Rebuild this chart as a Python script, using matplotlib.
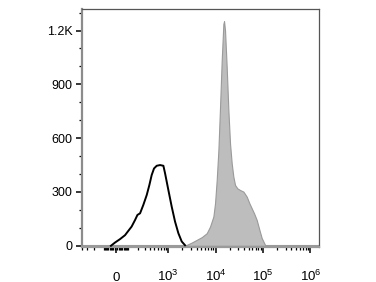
import numpy as np
import matplotlib
matplotlib.use('Agg')
import matplotlib.pyplot as plt

plt.rcParams['font.family'] = ['Liberation Sans', 'DejaVu Sans']
plt.rcParams['mathtext.default'] = 'regular'

# unstained control (black outline)
ctrl_x = [-40, -8, 31, 72, 101, 133, 170, 198, 232, 280, 337, 388, 437, 493,
          565, 669, 789, 857, 1008, 1188, 1398, 1645, 1936, 2277]
ctrl_y = [0, 18, 37, 59, 83, 107, 144, 172, 181, 228, 283, 339, 394, 431,
          446, 450, 446, 404, 311, 218, 135, 70, 24, 3]

# stained sample (gray fill)
stain_x = [2471, 3149, 4015, 5119, 6528, 7667, 9017, 9775, 10605, 11503,
           12464, 13515, 14656, 15142, 15888, 17221, 18679, 20250, 21967,
           23809, 25821, 28917, 32906, 38691, 45494, 51765, 58003, 64964,
           73925, 84162, 94242, 110740, 120119]
stain_y = [5, 18, 33, 48, 70, 107, 163, 237, 367, 533, 774, 1033, 1237, 1252,
           1200, 996, 756, 570, 459, 385, 339, 320, 311, 302, 274, 237, 209,
           181, 144, 89, 43, 5, 0]

x_major = [0, 1e3, 1e4, 1e5, 1e6]
x_major_labels = ['0', '$10^{3}$', '$10^{4}$', '$10^{5}$', '$10^{6}$']
y_major = [0, 300, 600, 900, 1200]
y_major_labels = ['0', '300', '600', '900', '1.2K']

C = 160.0


def fwd(x):
    return np.arcsinh(np.asarray(x, dtype=float) / C)


def inv(y):
    return C * np.sinh(np.asarray(y, dtype=float))


fig = plt.figure(figsize=(3.76, 2.82), dpi=100)
ax = fig.add_axes([82 / 376, 35.5 / 282, 237 / 376, 237.5 / 282])
ax.set_xscale('function', functions=(fwd, inv))

ax.fill_between(stain_x, stain_y, 0, facecolor='#bdbdbd', edgecolor='#9a9a9a',
                linewidth=0.8, zorder=2)
ax.plot(ctrl_x, ctrl_y, color='black', linewidth=1.4, zorder=3)
ax.axhline(0, color='#9a9a9a', linewidth=1.5, zorder=1)

ax.set_xlim(-402, 1.52e6)
ax.set_ylim(-4, 1320)

# minor ticks, logicle style
minor = [-400, -300, -200, -100]
minor += [s * k for s in (-1, 1) for k in range(10, 100, 10)]
minor += [k * 10 ** n for n in (2, 3, 4, 5) for k in range(2, 10)]
minor += [100]
ax.set_xticks(x_major, x_major_labels)
ax.set_xticks(minor, minor=True)
ax.set_yticks(y_major, y_major_labels)
ax.set_yticks(np.arange(100, 1400, 100), minor=True)

ax.tick_params(axis='both', which='major', direction='out', length=4.5,
               width=1.1, color='black')
ax.tick_params(axis='both', which='minor', direction='out', length=2.2,
               width=0.9, color='black')
ax.tick_params(axis='y', which='major', pad=2.5, labelsize=9)
ax.tick_params(axis='x', which='major', pad=20, labelsize=9.5)
for lab in ax.get_xticklabels():
    lab.set_verticalalignment('baseline')

for side in ('top', 'right'):
    ax.spines[side].set_color('#555555')
    ax.spines[side].set_linewidth(0.9)
ax.spines['left'].set_color('#8c8c8c')
ax.spines['left'].set_linewidth(1.6)
ax.spines['bottom'].set_color('#9a9a9a')
ax.spines['bottom'].set_linewidth(1.6)

fig.savefig('out.png', dpi=100)
